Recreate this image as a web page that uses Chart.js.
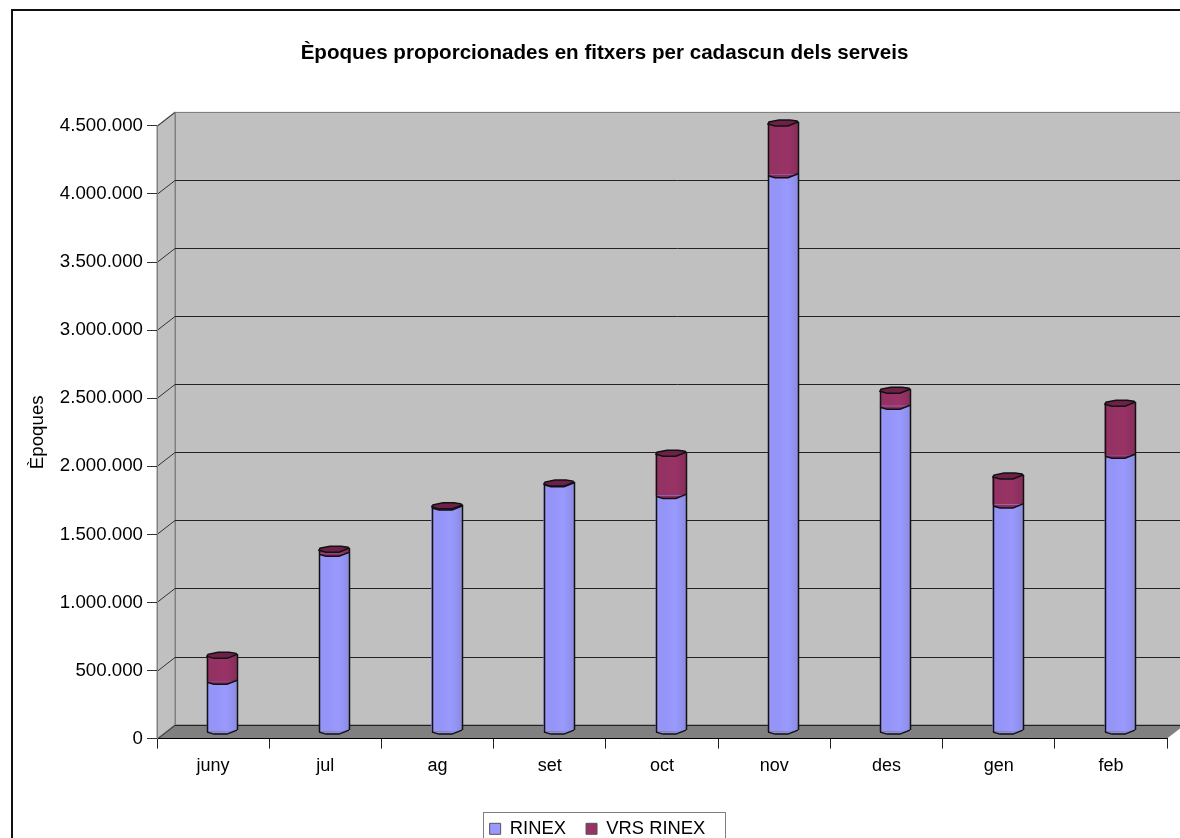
<!DOCTYPE html>
<html>
<head>
<meta charset="utf-8">
<title>Èpoques</title>
<script src="https://cdn.jsdelivr.net/npm/chart.js@4/dist/chart.umd.js"></script>
<style>
  body { margin: 0; background: #fff; }
  canvas { display: block; }
</style>
</head>
<body>
<canvas id="grafic" width="1180" height="838"></canvas>
<script>
const titol = "Èpoques proporcionades en fitxers per cadascun dels serveis";
const titolEix = "Èpoques";
const mesos = ["juny", "jul", "ag", "set", "oct", "nov", "des", "gen", "feb"];
const rinex = [370000, 1310000, 1650000, 1820000, 1735000, 4090000, 2390000, 1665000, 2030000];
const vrsRinex = [190000, 30000, 8000, 5000, 310000, 380000, 117000, 212000, 382000];
const nomsSeries = ["RINEX", "VRS RINEX"];

// Desplaçament de la paret del fons respecte de l'eix frontal
const FONS_X = 18, FONS_Y = 14;
// Les barres queden a mig camí de la fondària
const BARRA_X = 9, BARRA_Y = 7, AMPLE = 30;

const BLAU = "#9999FF", GRANA = "#993366", TAPA = "#6E2148";
const FONT = "'Liberation Sans', Arial, sans-serif";

function gradientBarra(context, fosc) {
  if (context.type !== "data") return fosc[0];
  const chart = context.chart;
  const x = chart.scales.x.getPixelForValue(context.dataIndex) + BARRA_X - AMPLE / 2;
  const g = chart.ctx.createLinearGradient(x, 0, x + AMPLE, 0);
  g.addColorStop(0, fosc[1]);
  g.addColorStop(0.35, fosc[0]);
  g.addColorStop(0.6, fosc[2]);
  g.addColorStop(0.8, fosc[3]);
  g.addColorStop(1, fosc[4]);
  return g;
}
const tonsBlau = [BLAU, "#9595F8", "#9090EA", "#8585D2", "#7B7BC0"];
const tonsGrana = [GRANA, "#953264", "#8C2F5E", "#822C57", "#752850"];

// Corba frontal de la barra (abans era un cilindre de pocs costats)
function corbaFront(ctx, x, y) {
  ctx.moveTo(x, y + 1);
  ctx.lineTo(x + 7, y + 3);
  ctx.lineTo(x + 20, y + 3);
  ctx.lineTo(x + 30, y - 1);
}

const decorat3d = {
  id: "decorat3d",
  beforeDraw(chart) {
    const { ctx, chartArea: a, scales: { y } } = chart;
    ctx.save();
    // marc exterior
    ctx.strokeStyle = "#111";
    ctx.lineWidth = 2;
    ctx.strokeRect(12, 10, 1300, 1000);

    const y0 = a.bottom, yTop = a.top;
    // paret lateral
    ctx.fillStyle = "#C0C0C0";
    ctx.strokeStyle = "#808080";
    ctx.lineWidth = 1;
    ctx.beginPath();
    ctx.moveTo(a.left, y0);
    ctx.lineTo(a.left, yTop);
    ctx.lineTo(a.left + FONS_X, yTop - FONS_Y);
    ctx.lineTo(a.left + FONS_X, y0 - FONS_Y);
    ctx.closePath();
    ctx.fill();
    ctx.stroke();
    // paret del fons
    ctx.fillRect(a.left + FONS_X, yTop - FONS_Y, 1180, y0 - yTop);
    ctx.strokeRect(a.left + FONS_X + 0.5, yTop - FONS_Y + 0.5, 1180, y0 - yTop);
    // terra
    ctx.fillStyle = "#808080";
    ctx.beginPath();
    ctx.moveTo(a.left, y0);
    ctx.lineTo(a.right, y0);
    ctx.lineTo(a.right + FONS_X, y0 - FONS_Y);
    ctx.lineTo(a.left + FONS_X, y0 - FONS_Y);
    ctx.closePath();
    ctx.fill();
    // línies de la quadrícula
    y.ticks.forEach(t => {
      const py = Math.round(y.getPixelForValue(t.value)) + 0.5;
      ctx.strokeStyle = t.value === 4500000 ? "#808080" : "#222";
      ctx.beginPath();
      ctx.moveTo(a.left + FONS_X, py - FONS_Y);
      ctx.lineTo(1180, py - FONS_Y);
      ctx.stroke();
      ctx.strokeStyle = "#333";
      ctx.beginPath();
      ctx.moveTo(a.left, py);
      ctx.lineTo(a.left + FONS_X, py - FONS_Y);
      ctx.stroke();
    });
    ctx.restore();
  },
  beforeDatasetDraw(chart) {
    chart.ctx.save();
    chart.ctx.translate(BARRA_X, -BARRA_Y);
  },
  afterDatasetDraw(chart) {
    chart.ctx.restore();
  },
  afterDatasetsDraw(chart) {
    const ctx = chart.ctx;
    ctx.save();
    ctx.translate(BARRA_X, -BARRA_Y);
    ctx.lineWidth = 1.5;
    ctx.strokeStyle = "#111";
    const barresR = chart.getDatasetMeta(0).data;
    const barresV = chart.getDatasetMeta(1).data;
    barresR.forEach((r, i) => {
      const v = barresV[i];
      const x = Math.round(r.x - AMPLE / 2);
      // peu de la barra
      ctx.fillStyle = "#8C8CE4";
      ctx.beginPath();
      ctx.moveTo(x, r.base);
      corbaFront(ctx, x, r.base);
      ctx.lineTo(x + 30, r.base);
      ctx.closePath();
      ctx.fill();
      ctx.beginPath();
      corbaFront(ctx, x, r.base);
      ctx.stroke();
      // unió entre les dues sèries
      ctx.fillStyle = "#8A2E5C";
      ctx.beginPath();
      ctx.moveTo(x, r.y);
      ctx.lineTo(x, r.y + 1);
      ctx.lineTo(x + 7, r.y + 3);
      ctx.lineTo(x + 20, r.y + 3);
      ctx.lineTo(x + 26, r.y + 1);
      ctx.lineTo(x + 26, r.y);
      ctx.closePath();
      ctx.fill();
      ctx.fillStyle = "#8585D2";
      ctx.beginPath();
      ctx.moveTo(x + 24, r.y + 0.5);
      ctx.lineTo(x + 30, r.y - 1);
      ctx.lineTo(x + 30, r.y + 1);
      ctx.closePath();
      ctx.fill();
      ctx.beginPath();
      corbaFront(ctx, x, r.y);
      ctx.stroke();
      // costats
      ctx.beginPath();
      ctx.moveTo(x + 0.5, v.y);
      ctx.lineTo(x + 0.5, r.base + 1);
      ctx.moveTo(x + 30.5, v.y - 1);
      ctx.lineTo(x + 30.5, r.base - 1);
      ctx.stroke();
      // tapa superior
      ctx.fillStyle = TAPA;
      ctx.beginPath();
      ctx.moveTo(x, v.y + 1);
      ctx.lineTo(x + 7, v.y + 3);
      ctx.lineTo(x + 20, v.y + 3);
      ctx.lineTo(x + 30, v.y - 1);
      ctx.lineTo(x + 29, v.y - 2);
      ctx.lineTo(x + 22, v.y - 3);
      ctx.lineTo(x + 11, v.y - 3);
      ctx.lineTo(x + 1, v.y - 1);
      ctx.closePath();
      ctx.fill();
      ctx.stroke();
    });
    ctx.restore();
  },
  afterLayout(chart) {
    // títol i llegenda de l'original no estan centrats al llenç
    chart.titleBlock.left += 14;
    chart.titleBlock.right += 14;
    chart.legend.left += 7;
    chart.legend.right += 7;
    chart.legend.top += 13;
    chart.legend.bottom += 13;
  },
  beforeDatasetsDraw(chart) {
    const ctx = chart.ctx;
    ctx.save();
    ctx.strokeStyle = "#808080";
    ctx.lineWidth = 1;
    // marc de la llegenda, tallat per la vora inferior com a l'original
    ctx.strokeRect(483.5, 812.5, 242, 40);
    ctx.restore();
  }
};

new Chart(document.getElementById("grafic"), {
  type: "bar",
  data: {
    labels: mesos,
    datasets: [
      { label: nomsSeries[0], data: rinex, backgroundColor: c => gradientBarra(c, tonsBlau), barThickness: AMPLE },
      { label: nomsSeries[1], data: vrsRinex, backgroundColor: c => gradientBarra(c, tonsGrana), barThickness: AMPLE }
    ]
  },
  options: {
    responsive: false,
    animation: false,
    layout: { padding: { left: 14, right: 13, top: 0, bottom: 3 } },
    font: { family: FONT },
    plugins: {
      title: {
        display: true,
        text: titol,
        color: "#000",
        font: { family: FONT, size: 20.6, weight: "bold" },
        padding: { top: 41, bottom: 60.2 }
      },
      legend: {
        position: "bottom",
        labels: {
          color: "#000",
          font: { family: FONT, size: 18.4 },
          boxWidth: 11,
          boxHeight: 11,
          padding: 20,
          generateLabels: () => [
            { text: nomsSeries[0], fillStyle: BLAU, strokeStyle: "#555", lineWidth: 1, datasetIndex: 0 },
            { text: nomsSeries[1], fillStyle: GRANA, strokeStyle: "#555", lineWidth: 1, datasetIndex: 1 }
          ]
        }
      },
      tooltip: { enabled: false }
    },
    scales: {
      x: {
        stacked: true,
        afterFit: s => { s.height = 48; },
        border: { color: "#000" },
        grid: { drawOnChartArea: false, color: "#222", tickLength: 10 },
        ticks: { color: "#000", padding: 7, font: { family: FONT, size: 18 }, maxRotation: 0 }
      },
      y: {
        stacked: true,
        min: 0,
        max: 4500000,
        afterFit: s => { s.width = 143; },
        border: { color: "#808080" },
        grid: { drawOnChartArea: false, color: "#333", tickLength: 10 },
        title: { display: true, text: titolEix, color: "#000", font: { family: FONT, size: 18.7 }, padding: { top: 13, bottom: 0 } },
        ticks: {
          stepSize: 500000,
          color: "#000",
          padding: 4,
          font: { family: FONT, size: 18.7 },
          callback: v => v.toLocaleString("de-DE")
        }
      }
    }
  },
  plugins: [decorat3d]
});
</script>
</body>
</html>
